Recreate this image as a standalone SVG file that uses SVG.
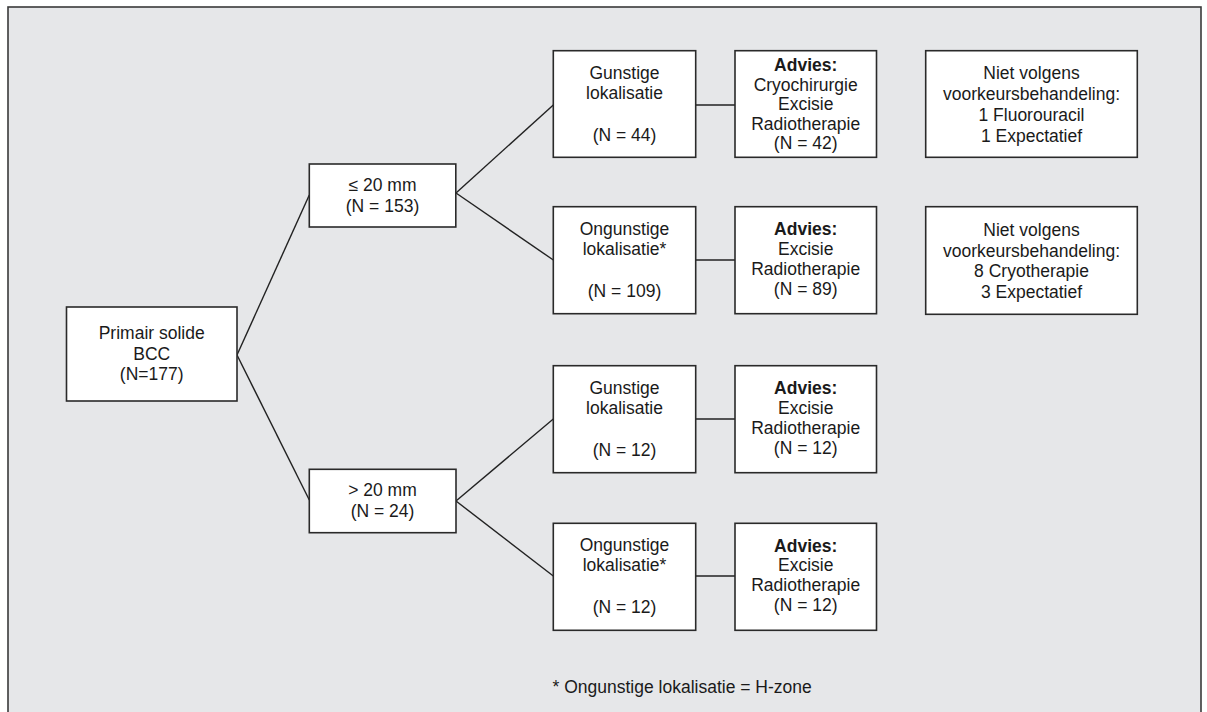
<svg xmlns="http://www.w3.org/2000/svg" width="1207" height="712" viewBox="0 0 1207 712">
<style>
.box{fill:#ffffff;stroke:#2a2a2a;stroke-width:1.6}
.t{font-family:"Liberation Sans",Arial,Helvetica,sans-serif;font-size:17.5px;fill:#1a1a1a;text-anchor:middle}
.b{font-weight:bold}
.con line{stroke:#222;stroke-width:1.4}
</style>
<rect x="8" y="7" width="1193" height="730" fill="#e6e7e9" stroke="#3a3a3a" stroke-width="1.6"/>
<g class="con" id="connectors">
<line x1="237" y1="355" x2="309.3" y2="195"/>
<line x1="237" y1="355" x2="309.3" y2="500"/>
<line x1="456" y1="193" x2="553.3" y2="105"/>
<line x1="456" y1="193" x2="553.3" y2="260"/>
<line x1="456" y1="501" x2="553.3" y2="419"/>
<line x1="456" y1="501" x2="553.3" y2="576"/>
<line x1="695.7" y1="105" x2="735" y2="105"/>
<line x1="695.7" y1="260" x2="735" y2="260"/>
<line x1="695.7" y1="419" x2="735" y2="419"/>
<line x1="695.7" y1="576" x2="735" y2="576"/>
</g>
<g id="primair">
<rect class="box" x="66.5" y="307" width="170.5" height="94"/>
<text class="t" x="151.7" y="339">Primair solide</text>
<text class="t" x="151.7" y="359.5">BCC</text>
<text class="t" x="151.7" y="380">(N=177)</text>
</g>
<g id="le20">
<rect class="box" x="309.3" y="164" width="146.5" height="63"/>
<text class="t" x="382.5" y="190.7">≤ 20 mm</text>
<text class="t" x="382.5" y="211.7">(N = 153)</text>
</g>
<g id="gt20">
<rect class="box" x="309.3" y="469.3" width="146.7" height="63.4"/>
<text class="t" x="382.5" y="496">&gt; 20 mm</text>
<text class="t" x="382.5" y="517">(N = 24)</text>
</g>
<g id="gunstig1">
<rect class="box" x="553.3" y="50.7" width="142.4" height="106.6"/>
<text class="t" x="624.5" y="78.5">Gunstige</text>
<text class="t" x="624.5" y="99">lokalisatie</text>
<text class="t" x="624.5" y="140.5">(N = 44)</text>
</g>
<g id="advies1">
<rect class="box" x="735" y="50.7" width="141.5" height="106.6"/>
<text class="t b" x="805.7" y="71">Advies:</text>
<text class="t" x="805.7" y="90.5">Cryochirurgie</text>
<text class="t" x="805.7" y="110">Excisie</text>
<text class="t" x="805.7" y="129.5">Radiotherapie</text>
<text class="t" x="805.7" y="149">(N = 42)</text>
</g>
<g id="niet1">
<rect class="box" x="925.7" y="50.7" width="211.6" height="106.6"/>
<text class="t" x="1031.5" y="78.5">Niet volgens</text>
<text class="t" x="1031.5" y="99.5">voorkeursbehandeling:</text>
<text class="t" x="1031.5" y="120.5">1 Fluorouracil</text>
<text class="t" x="1031.5" y="141.5">1 Expectatief</text>
</g>
<g id="ongunstig1">
<rect class="box" x="553.3" y="206.7" width="142.4" height="107"/>
<text class="t" x="624.5" y="234.5">Ongunstige</text>
<text class="t" x="624.5" y="254.5">lokalisatie*</text>
<text class="t" x="624.5" y="296.5">(N = 109)</text>
</g>
<g id="advies2">
<rect class="box" x="735" y="206.7" width="141.5" height="107"/>
<text class="t b" x="805.7" y="234.7">Advies:</text>
<text class="t" x="805.7" y="254.7">Excisie</text>
<text class="t" x="805.7" y="274.7">Radiotherapie</text>
<text class="t" x="805.7" y="294.7">(N = 89)</text>
</g>
<g id="niet2">
<rect class="box" x="925.7" y="206.7" width="211.6" height="107.6"/>
<text class="t" x="1031.5" y="235.5">Niet volgens</text>
<text class="t" x="1031.5" y="256.5">voorkeursbehandeling:</text>
<text class="t" x="1031.5" y="277.3">8 Cryotherapie</text>
<text class="t" x="1031.5" y="298.3">3 Expectatief</text>
</g>
<g id="gunstig2">
<rect class="box" x="553.3" y="365.7" width="142.4" height="107"/>
<text class="t" x="624.5" y="393.5">Gunstige</text>
<text class="t" x="624.5" y="414">lokalisatie</text>
<text class="t" x="624.5" y="455.5">(N = 12)</text>
</g>
<g id="advies3">
<rect class="box" x="735" y="365.7" width="141.5" height="107"/>
<text class="t b" x="805.7" y="393.7">Advies:</text>
<text class="t" x="805.7" y="413.7">Excisie</text>
<text class="t" x="805.7" y="433.7">Radiotherapie</text>
<text class="t" x="805.7" y="453.7">(N = 12)</text>
</g>
<g id="ongunstig2">
<rect class="box" x="553.3" y="523.3" width="142.4" height="107"/>
<text class="t" x="624.5" y="551.2">Ongunstige</text>
<text class="t" x="624.5" y="571">lokalisatie*</text>
<text class="t" x="624.5" y="612.5">(N = 12)</text>
</g>
<g id="advies4">
<rect class="box" x="735" y="523.3" width="141.5" height="107"/>
<text class="t b" x="805.7" y="551.5">Advies:</text>
<text class="t" x="805.7" y="571.3">Excisie</text>
<text class="t" x="805.7" y="591.3">Radiotherapie</text>
<text class="t" x="805.7" y="611.3">(N = 12)</text>
</g>
<g id="footnote">
<text class="t" x="552.5" y="692.7" style="text-anchor:start">* Ongunstige lokalisatie = H-zone</text>
</g>
</svg>
